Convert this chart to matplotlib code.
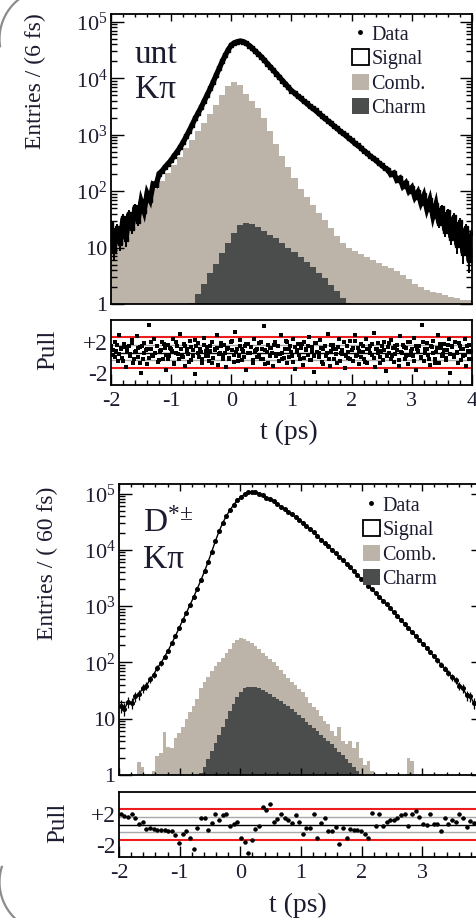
import numpy as np
import matplotlib
matplotlib.use("Agg")
import matplotlib.pyplot as plt
import matplotlib.transforms as mtransforms
from matplotlib.patches import Patch, Arc
from matplotlib.lines import Line2D
from matplotlib.ticker import MultipleLocator, FixedLocator, FixedFormatter, LogLocator, NullFormatter

plt.rcParams['font.family'] = ['Liberation Serif', 'DejaVu Serif']
plt.rcParams['mathtext.fontset'] = 'custom'
plt.rcParams['mathtext.rm'] = 'Liberation Serif'
plt.rcParams['mathtext.it'] = 'Liberation Serif:italic'
plt.rcParams['mathtext.bf'] = 'Liberation Serif:bold'
plt.rcParams['axes.unicode_minus'] = False

# ---------------- upper panel: untagged K pi, entries per 6 fs ----------------
t_range = (-2.0, 4.0)
top_data_step = 0.05
top_data = [26, 9, 22, 12, 33, 14, 40, 22, 52, 30, 66, 44, 92, 70, 134, 128, 205,
            229, 269, 309, 355, 427, 501, 603, 741, 933, 1175,
            1514, 1950, 2455, 3090, 3981, 5129, 6607, 8710, 11482, 15136,
            19953, 25704, 32359, 38905, 42658, 44668, 45709, 44668, 41687, 38019,
            33884, 30200, 26915, 23988, 20893, 18197, 15849, 13804, 12023, 10471,
            9120, 7943, 6918, 6026, 5495, 4898, 4467, 3981, 3631, 3236,
            2951, 2692, 2399, 2188, 1950, 1778, 1622, 1445, 1318, 1175,
            1072, 977, 871, 794, 708, 646, 589, 525, 479, 427,
            389, 355, 316, 288, 257,
            240, 198, 210, 158, 170, 122, 140, 100, 116, 78, 96, 62, 84, 48, 70,
            36, 58, 27, 50, 20, 42, 15, 35, 11, 28, 8, 22, 6, 18]

top_hist_width = 0.1
top_comb = [13.2, 17.8, 23.4, 31.6, 41.7, 57.5, 79.4, 110, 151, 209,
            288, 407, 575, 813, 1148, 1622, 2344, 3388, 5012, 7244,
            8710, 7586, 5248, 3981, 2951, 1950, 1175, 692, 427, 269,
            170, 110, 77.6, 56.2, 41.7, 30.2, 21.9, 15.8, 12.0, 10.0,
            8.7, 7.8, 6.9, 6.0, 5.4, 4.8, 4.3, 3.8, 3.3, 2.8,
            2.3, 2.0, 1.8, 1.66, 1.55, 1.45, 1.35, 1.26, 1.2, 1.17]
top_charm = [0, 0, 0, 0, 0, 0, 0, 0, 0, 0,
             0, 0, 0, 1.05, 1.5, 2.3, 3.5, 5.2, 7.9, 12,
             18, 25, 27.5, 26.3, 23.4, 20, 17, 14.5, 12, 10,
             8.3, 6.8, 5.5, 4.5, 3.6, 2.9, 2.2, 1.7, 1.3, 1.05,
             0, 0, 0, 0, 0, 0, 0, 0, 0, 0,
             0, 0, 0, 0, 0, 0, 0, 0, 0, 0]

# pulls of the 6 fs bins, even and odd bins
top_pull_even = [0.8, -0.3, 1.4, 0.2, -1.1, 2.3, 0.6, -0.7, 1.1, -1.9, 0.4, 0.9, -0.2, 1.6, -1.3, 0.1, 2.1, -0.6, 0.7, -2.6,
                 -0.9, 1.2, 0.3, -1.5, 3.6, 0.5, -0.4, 1.8, -0.1, 0.9, -1.2, 0.2, 1.3, -0.8, 0.6, -2.2, 1.0, -0.5, 0.4, 1.7,
                 -1.4, 0.0, 0.8, -0.9, 2.4, -0.3, 1.1, -1.7, 0.5, -0.2, 1.5, -1.0, 0.3, -2.8, 0.9, 1.2, -0.6, 0.1, -1.3, 1.9,
                 -0.4, 0.7, -1.1, 0.2, 1.4, -0.7, 0.5, 2.2, -1.6, 0.0, 0.8, -0.3, 1.0, -1.9, 0.6, -0.8, 1.3, 0.3, -1.2, 2.6,
                 0.4, -0.5, 1.6, -1.0, 0.2, 0.9, -2.3, 1.1, -0.1, 0.7, -1.4, 1.8, 0.3, -0.6, 1.2, -0.9, 0.5, 3.4, -1.5, 0.1,
                 1.0, -0.4, 0.6, -1.8, 1.4, -0.2, 0.8, -1.1, 2.3, 0.0, -0.7, 1.5, -1.3, 0.4, 0.9, -0.5, 1.7, -2.1, 0.2, 1.1,
                 -0.8, 0.6, -1.6, 1.3, 0.3, -0.3, 2.0, -1.0, 0.7, -2.5, 1.2, 0.1, -0.6, 1.6, -1.2, 0.5, 0.9, -0.4, 2.4, -1.7,
                 0.2, 1.0, -0.9, 0.4, -1.4, 1.8, 0.0, -0.2, 1.3, -2.0, 0.8, -0.7, 1.5, 0.3, -1.1, 2.2, -0.5, 0.6, -1.5, 1.1,
                 0.1, -0.8, 1.7, -1.3, 0.5, 0.9, -0.3, 2.5, -1.9, 0.4, 1.2, -0.6, 0.2, -1.0, 1.4, -2.4, 0.7, 0.0, 1.6, -0.4,
                 -1.2, 0.8, 0.3, -1.7, 2.1, -0.1, 1.0, -0.9, 0.6, -1.5, 1.3, 0.2, -0.5, 1.9, -2.2, 0.5, 0.9, -0.7, 3.5, -1.1,
                 0.4, 1.2, -0.3, -1.6, 0.7, 1.5, -0.8, 0.1, 2.3, -1.4, 0.6, -0.2, 1.1, -1.0, 0.3, 1.8, -2.6, 0.8, -0.6, 1.4,
                 0.0, -1.3, 0.9, 0.5, -0.4, 1.7, -1.8, 0.2, 1.0, -0.9]
top_pull_odd = [0.3, -0.6, 1.0, -0.2, 0.5, -1.1, 0.7, 0.1, -0.4, 1.2, -0.8, 0.2, 0.6, -1.3, 0.9, -0.1, 0.4, -0.7, 1.4, -0.5,
                0.0, 0.8, -1.0, 0.3, 1.1, -0.3, -0.9, 0.6, 0.2, -1.5, 1.3, -0.2, 0.5, -0.6, 0.9, 0.1, -1.2, 0.7, -0.4, 1.6,
                -0.1, 0.4, -0.8, 1.0, 0.2, -0.5, 0.8, -1.4, 0.3, 0.6, -0.2, 1.2, -0.9, 0.0, 0.5, -0.7, 1.5, -0.3, 0.1, -1.1,
                0.9, 0.4, -0.6, 1.1, -0.1, 0.7, -1.0, 0.2, 0.5, -0.4, 1.3, -0.8, 0.3, -1.3, 0.6, 0.0, 1.0, -0.5, 0.8, -0.2,
                -0.9, 0.4, 1.4, -0.6, 0.1, -1.2, 0.7, 0.3, -0.3, 1.1, -0.7, 0.5, 0.9, -1.0, 0.2, -0.4, 1.2, -0.1, 0.6, -1.5,
                0.8, 0.0, -0.8, 1.0, 0.4, -0.2, 0.7, -1.1, 0.3, 1.3, -0.5, 0.1, -0.9, 0.6, 1.5, -0.3, 0.2, -0.6, 0.9, -1.2,
                0.5, -0.1, 1.1, -0.7, 0.4, 0.0, -1.4, 0.8, 0.3, -0.4, 1.2, -0.8, 0.6, -0.2, 1.0, -1.0, 0.1, 0.7, -0.5, 1.4,
                -0.3, 0.5, -1.1, 0.9, 0.2, -0.6, 1.3, -0.1, 0.4, -0.9, 0.8, 0.0, -1.3, 0.6, 1.1, -0.4, 0.3, -0.7, 1.0, -0.2,
                0.7, -0.5, 0.1, 1.2, -1.0, 0.4, -0.3, 0.9, -0.8, 0.2]

# ---------------- lower panel: D*-tagged K pi, entries per 60 fs ----------------
bot_bin_width = 0.06
bot_data = [17, 15, 20, 19, 25, 27, 35, 38, 50, 60, 80, 96,
            126, 162, 219, 295, 407, 562, 759, 1047, 1445, 2042,
            2884, 4169, 6166, 9333, 14454, 21380, 30200, 39811, 51286, 63096,
            75858, 87096, 97724, 104713, 107152, 104713, 100000, 93325, 85114, 79433,
            72444, 66069, 58884, 53703, 47863, 42658, 38019, 33884, 30200, 26303,
            23442, 20417, 17783, 15136, 13183, 11482, 10000, 8710, 7586, 6607,
            5623, 4898, 4169, 3631, 3090, 2692, 2291, 1995, 1698, 1445,
            1259, 1072, 912, 776, 661, 562, 479, 407, 347, 295,
            251, 214, 182, 151, 129, 110, 91, 78, 66, 55,
            49, 38, 35, 26, 25, 19, 18, 13]
bot_comb = [0, 0, 0, 0, 0, 1.7, 1.4, 0, 0, 1.2,
            2.2, 2.5, 5.7, 3.2, 3.0, 4.5, 5.5, 7, 10, 13,
            17, 22, 35, 45, 55, 70, 85, 100, 120, 150,
            175, 225, 250, 268, 260, 245, 220, 195, 170, 150,
            130, 115, 100, 85, 72, 62, 52, 45, 40, 34,
            30, 24, 19, 16, 14, 11, 9, 8, 6, 5,
            7, 4, 3.5, 4, 3, 3.8, 2, 1.5, 1.8, 1.2,
            0, 0, 0, 0, 0, 0, 0, 0, 0, 2,
            1.8, 0, 0, 0, 0, 0, 0, 0, 0, 0,
            0, 0, 0, 0, 0, 0, 0, 0, 0, 0]
bot_charm = [0, 0, 0, 0, 0, 0, 0, 0, 0, 0,
             0, 0, 0, 0, 0, 0, 0, 0, 0, 0,
             0, 0, 1.1, 1.4, 1.95, 2.7, 3.7, 5.1, 7.1, 9.8,
             13.5, 18, 24, 29.5, 34.7, 37, 37, 36, 34.7, 32,
             29.5, 27, 24.5, 22.4, 20.4, 18.6, 16.6, 14.8, 13.2, 11.7,
             10.2, 8.9, 7.8, 6.9, 6.0, 5.2, 4.6, 4.0, 3.5, 3.0,
             2.6, 2.3, 1.95, 1.66, 1.41, 1.2, 1.05, 0, 0, 0,
             0, 0, 0, 0, 0, 0, 0, 0, 0, 0,
             0, 0, 0, 0, 0, 0, 0, 0, 0, 0,
             0, 0, 0, 0, 0, 0, 0, 0, 0, 0]
bot_pull = [1.4, 1.1, 1.0, 1.4, 0.9, 0.1, 0.3, -0.6, -0.4, -0.6,
            -0.7, -0.7, -0.7, -0.8, -0.9, -1.4, -2.4, -1.2, -0.9, -1.7,
            -3.2, -0.4, 0.9, 0.9, -0.7, 0.2, 1.4, 0.6, 1.2, 1.3,
            -0.2, 0.1, 0.3, -1.8, -2.2, -3.7, -2.0, -0.6, -0.2, 2.3,
            1.9, 2.6, 0.3, 0.7, 1.3, 0.9, 0.6, 0.2, 1.2, 0.3,
            -1.2, -0.5, -0.5, 1.4, -1.7, 0.2, 0.9, -0.8, -0.8, -0.3,
            -2.5, -0.5, -1.8, -0.6, -0.7, -0.7, -0.9, -1.2, -1.7, 1.5,
            -0.2, 1.4, -0.2, 0.3, 0.6, 0.6, 0.9, 1.2, 1.4, -0.2,
            1.4, 1.8, 1.0, 0.1, 0.0, 1.4, 0.1, 0.1, -0.9, 0.8,
            0.1, 0.6, 0.3, 1.3, 0.8, -0.3, 0.5, 0.2, -0.3, 0.2]

legend_labels = ['Data', 'Signal', 'Comb.', 'Charm']
decade_ticks = [1, 10, 100, 1e3, 1e4, 1e5]
decade_labels = ['1', '10', r'$10^{2}$', r'$10^{3}$', r'$10^{4}$', r'$10^{5}$']

COMB = '#bcb3a9'
CHARM = '#4a4d4b'
RED = '#ee1c1c'
TXT = '#1c1c30'

W, H = 477, 918
fig = plt.figure(figsize=(W / 100, H / 100), dpi=100)
fig.patch.set_facecolor('white')


def px_axes(left, top, right, bottom):
    return fig.add_axes([left / W, 1 - bottom / H, (right - left) / W, (bottom - top) / H])


def style_main(ax, ytop, show_bottom_ticks):
    ax.set_xlim(*t_range)
    ax.set_yscale('log')
    ax.set_ylim(1, ytop)
    ax.yaxis.set_major_locator(FixedLocator(decade_ticks))
    ax.yaxis.set_major_formatter(FixedFormatter(decade_labels))
    ax.yaxis.set_minor_locator(LogLocator(base=10, subs=np.arange(2, 10)))
    ax.yaxis.set_minor_formatter(NullFormatter())
    ax.xaxis.set_major_locator(MultipleLocator(1))
    ax.xaxis.set_minor_locator(MultipleLocator(0.2))
    ax.tick_params(axis='y', which='both', direction='in', left=True, right=True,
                   labelsize=16, labelcolor=TXT, pad=2.5, width=1.0)
    ax.tick_params(axis='y', which='major', length=9)
    ax.tick_params(axis='y', which='minor', length=4.5)
    ax.tick_params(axis='x', which='both', direction='in', top=True,
                   bottom=show_bottom_ticks, labelbottom=False, width=1.0)
    ax.tick_params(axis='x', which='major', length=5)
    ax.tick_params(axis='x', which='minor', length=2.5)
    for s in ax.spines.values():
        s.set_linewidth(1.3)
    ax.set_facecolor('none')


def style_pull(ax, gray_lines):
    ax.set_xlim(*t_range)
    ax.set_ylim(-4.2, 4.2)
    ax.axhline(0, color='black', lw=1.0, zorder=1)
    if gray_lines:
        for y in (-1, 1):
            ax.axhline(y, color='#a8a8a8', lw=1.0, zorder=1)
    for y in (-2, 2):
        ax.axhline(y, color=RED, lw=1.5, zorder=1)
    ax.set_yticks([2, -2])
    ax.set_yticklabels(['+2', '-2'])
    ax.tick_params(axis='y', length=0, labelsize=17, labelcolor=TXT, pad=2)
    off = mtransforms.ScaledTranslation(0, -5 / 100, fig.dpi_scale_trans)
    for lab in ax.get_yticklabels():
        lab.set_transform(lab.get_transform() + off)
    ax.xaxis.set_major_locator(MultipleLocator(1))
    ax.xaxis.set_minor_locator(MultipleLocator(0.2))
    ax.tick_params(axis='x', which='both', direction='in', top=False,
                   labelsize=16, labelcolor=TXT, pad=5, width=1.0)
    ax.tick_params(axis='x', which='major', length=8)
    ax.tick_params(axis='x', which='minor', length=3.6)
    for s in ax.spines.values():
        s.set_linewidth(1.3)


def draw_hist(ax, values, width, color):
    vals = np.asarray(values, dtype=float)
    edges = t_range[0] + width * np.arange(len(vals) + 1)
    ax.stairs(np.where(vals > 0, vals, 0.5), edges, baseline=0.5, fill=True,
              color=color, lw=0, zorder=1)


def add_legend(ax, anchor):
    handles = [Line2D([], [], marker='o', ls='none', color='black', ms=2.5),
               Patch(facecolor='white', edgecolor='black', lw=1.3),
               Patch(facecolor=COMB, edgecolor='none'),
               Patch(facecolor=CHARM, edgecolor='none')]
    leg = ax.legend(handles, legend_labels, loc='upper left', bbox_to_anchor=anchor,
                    frameon=False, fontsize=14.5, handlelength=0.85, handleheight=0.85,
                    handletextpad=0.12, labelspacing=0.22, borderpad=0, borderaxespad=0)
    for txt in leg.get_texts():
        txt.set_color(TXT)


# ---------------- upper panel ----------------
ax1 = px_axes(111, 14, 472, 304)
draw_hist(ax1, top_comb, top_hist_width, COMB)
draw_hist(ax1, top_charm, top_hist_width, CHARM)
t_top = t_range[0] + top_data_step * np.arange(len(top_data))
n_top = np.asarray(top_data, dtype=float)
ax1.plot(t_top, n_top, color='black', lw=3.8, zorder=3, solid_joinstyle='miter')
ax1.errorbar(t_top, n_top, yerr=np.sqrt(n_top), fmt='s', ms=2.4, color='black',
             elinewidth=1.4, capsize=0, zorder=4)
style_main(ax1, 10 ** 5.14, False)
add_legend(ax1, (0.667, 0.963))
ax1.text(0.066, 1 - (63 - 14) / 290, 'unt', transform=ax1.transAxes, fontsize=24,
         color=TXT, va='baseline', ha='left')
ax1.text(0.066, 1 - (98 - 14) / 290, 'K\u03c0', transform=ax1.transAxes, fontsize=24,
         color=TXT, va='baseline', ha='left')

ax1p = px_axes(111, 320, 472, 385)
style_pull(ax1p, True)
for pulls, shift in ((top_pull_even, 0.0), (top_pull_odd, 0.5)):
    step = (t_range[1] - t_range[0]) / len(pulls)
    t_p = t_range[0] + step * (np.arange(len(pulls)) + 0.25 + shift)
    ax1p.plot(t_p, pulls, 's', ms=2.6, color='black', mew=0, zorder=3)

# ---------------- lower panel ----------------
ax2 = px_axes(119, 484, 483, 775)
draw_hist(ax2, bot_comb, bot_bin_width, COMB)
draw_hist(ax2, bot_charm, bot_bin_width, CHARM)
t_bot = t_range[0] + bot_bin_width * (np.arange(len(bot_data)) + 0.5)
n_bot = np.asarray(bot_data, dtype=float)
ax2.plot(t_bot, n_bot, color='black', lw=1.0, zorder=3)
ax2.errorbar(t_bot, n_bot, yerr=np.sqrt(n_bot), xerr=bot_bin_width / 2, fmt='o', ms=2.6,
             color='black', elinewidth=0.9, capsize=0, zorder=4)
style_main(ax2, 10 ** 5.17, True)
add_legend(ax2, (0.67, 0.96))
ax2.text(0.066, 1 - (532 - 484) / 291, r'D$^{*\!\pm}$', transform=ax2.transAxes, fontsize=24,
         color=TXT, va='baseline', ha='left')
ax2.text(0.066, 1 - (568 - 484) / 291, 'K\u03c0', transform=ax2.transAxes, fontsize=24,
         color=TXT, va='baseline', ha='left')

ax2p = px_axes(119, 792, 483, 857)
style_pull(ax2p, True)
ax2p.errorbar(t_bot, bot_pull, xerr=bot_bin_width / 2, fmt='o', ms=2.2, color='black',
              elinewidth=0.8, capsize=0, zorder=3)

# ---------------- axis titles ----------------
fig.text(35 / W, 1 - 13 / H, 'Entries / (6 fs)', rotation=90, ha='center', va='top',
         fontsize=17, color=TXT)
fig.text(47 / W, 1 - 487 / H, 'Entries / ( 60 fs)', rotation=90, ha='center', va='top',
         fontsize=17, color=TXT)
fig.text(48 / W, 1 - 350 / H, 'Pull', rotation=90, ha='center', va='center',
         fontsize=18, color=TXT)
fig.text(58 / W, 1 - 823 / H, 'Pull', rotation=90, ha='center', va='center',
         fontsize=18, color=TXT)
fig.text(289 / W, 1 - 432 / H, 't (ps)', ha='center', va='center', fontsize=20, color=TXT)
fig.text(298 / W, 1 - 905 / H, 't (ps)', ha='center', va='center', fontsize=20, color=TXT)

# rounded page frame at the left edge
for (cx, cy, r, th1, th2) in [(50, 39, 50.5, 120, 185), (50, 882, 50.5, 170, 240)]:
    fig.add_artist(Arc((cx / W, 1 - cy / H), 2 * r / W, 2 * r / H, theta1=th1, theta2=th2,
                       transform=fig.transFigure, color='#8c8c8c', lw=1.6))

fig.savefig('out.png', dpi=100)
